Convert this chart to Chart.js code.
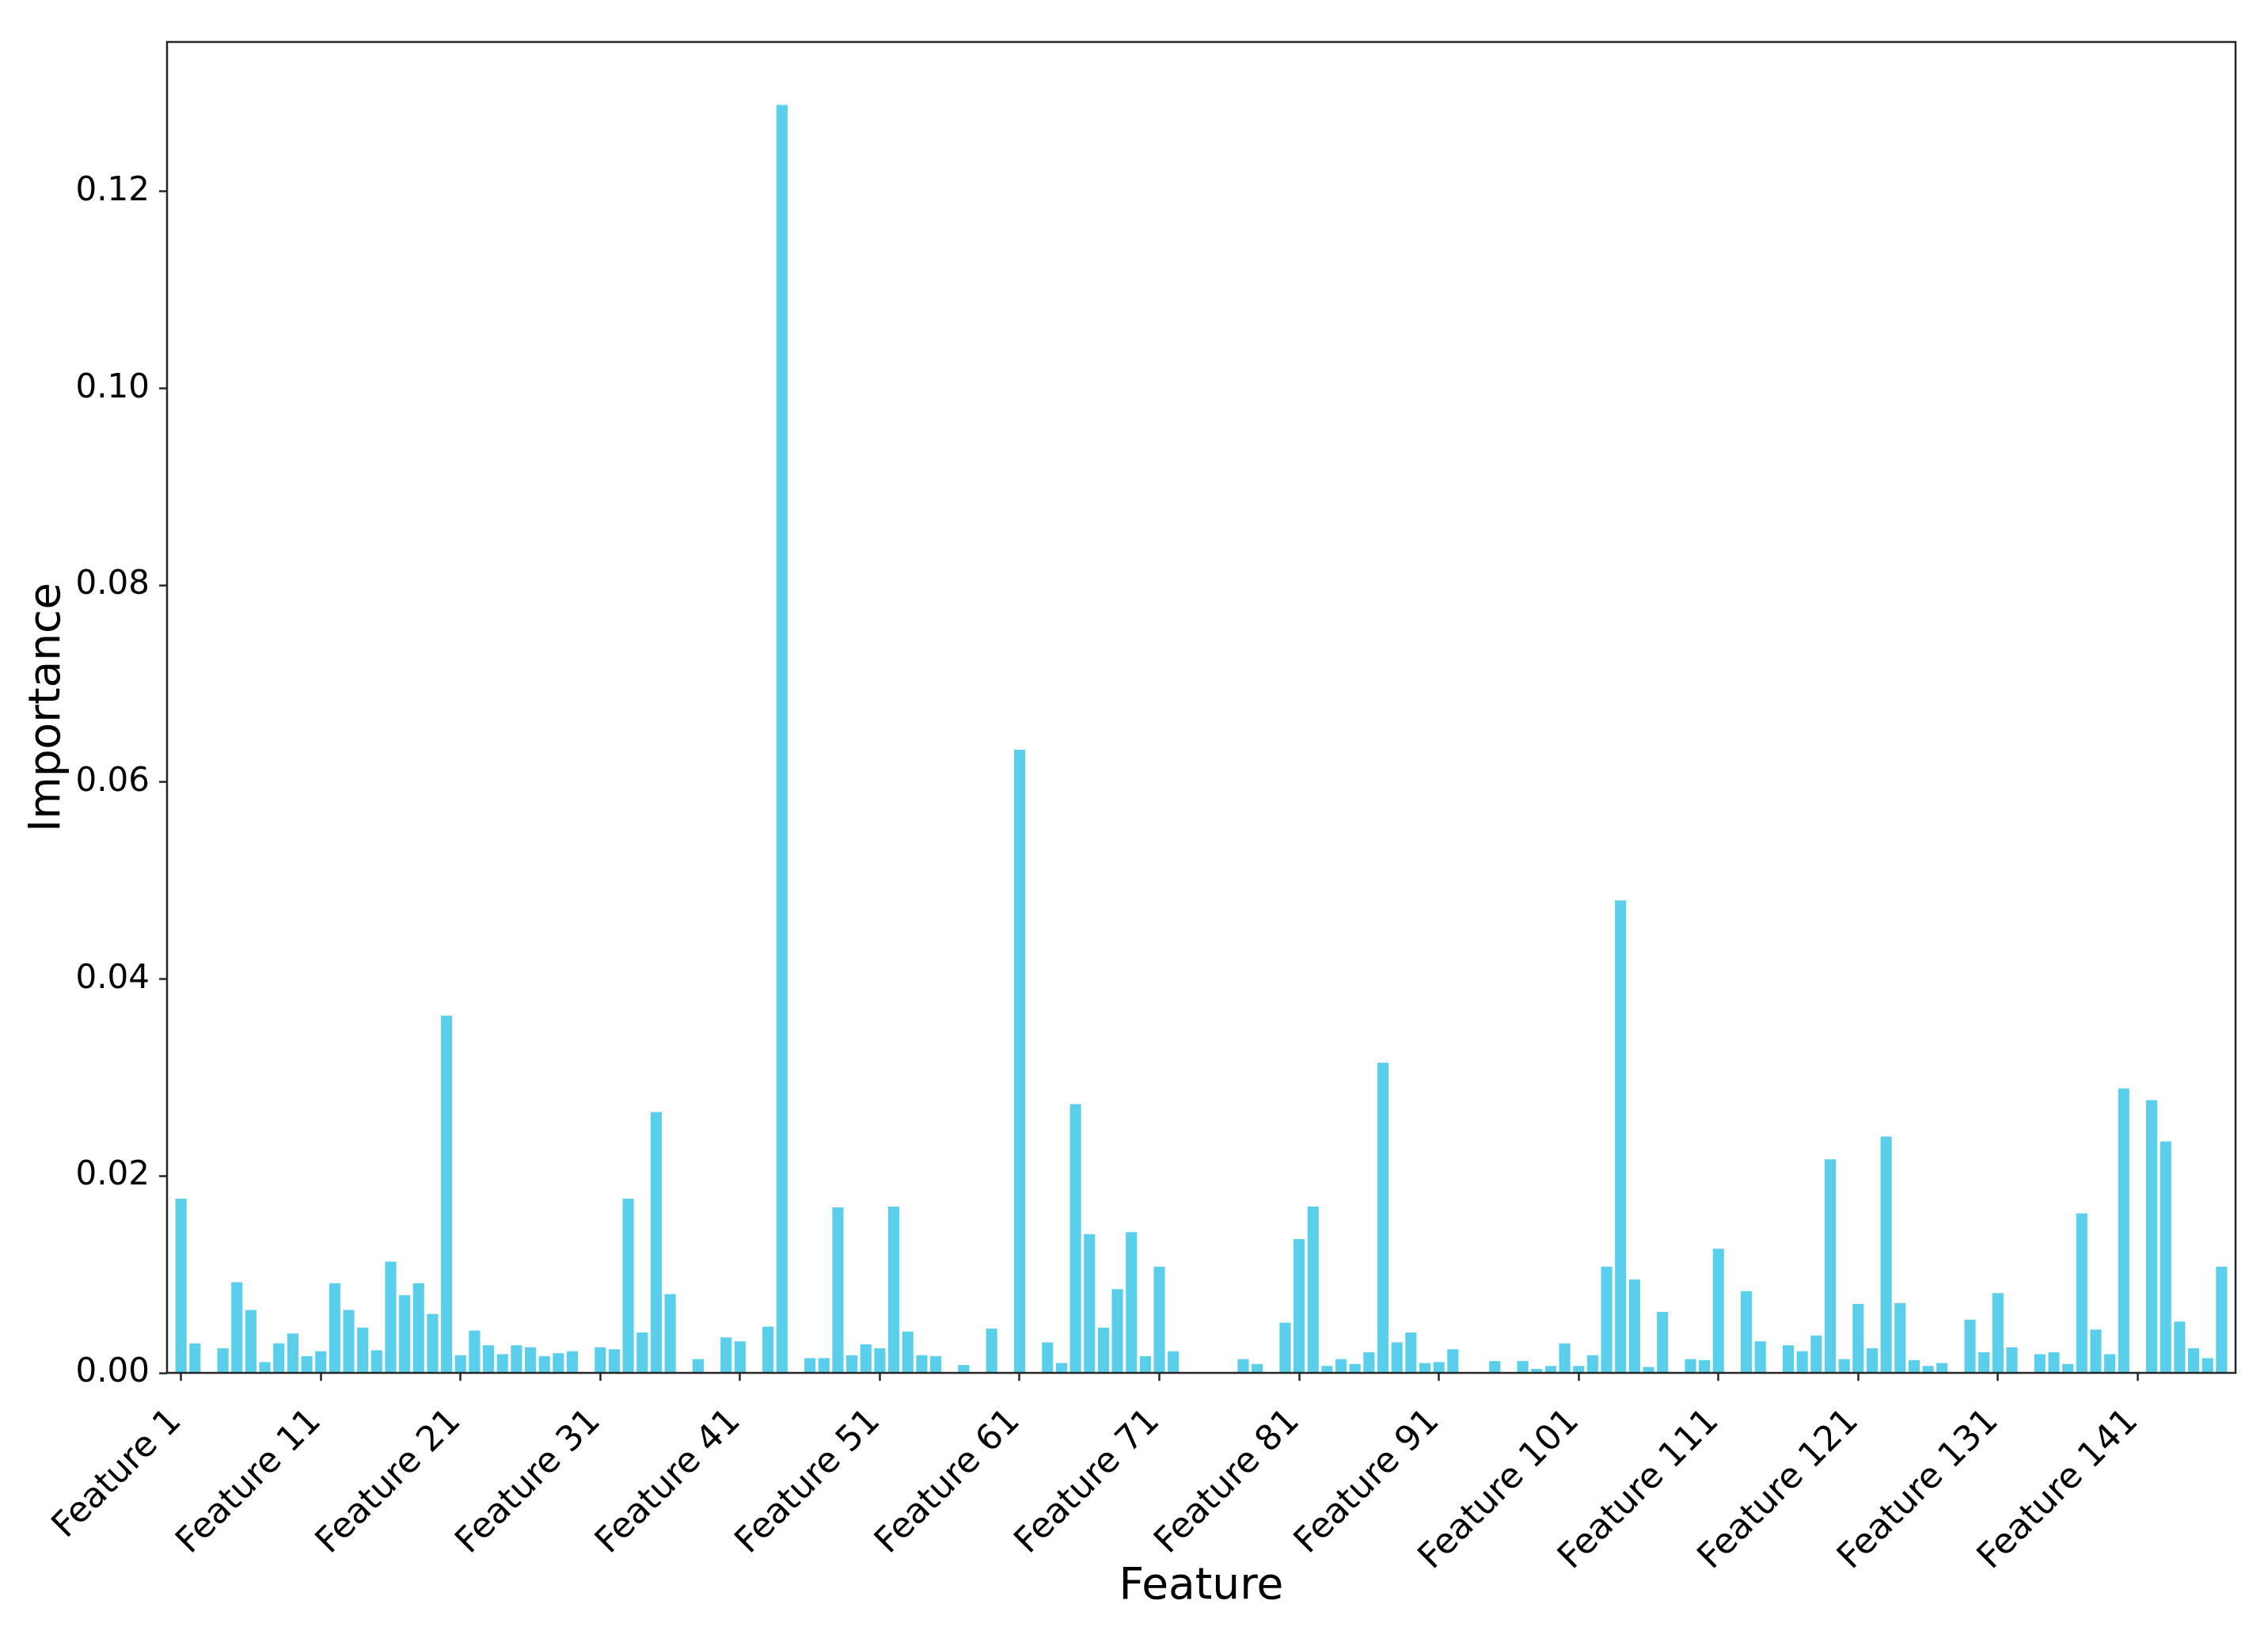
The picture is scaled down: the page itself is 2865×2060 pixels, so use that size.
<!DOCTYPE html>
<html>
<head>
<meta charset="utf-8">
<script src="https://cdn.jsdelivr.net/npm/chart.js@4/dist/chart.umd.min.js"></script>
<style>
  html, body { margin: 0; padding: 0; background: #fff; }
  #chart { display: block; }
</style>
</head>
<body>
<canvas id="chart" width="2865" height="2060"></canvas>
<script>
// ─── DATA ────────────────────────────────────────────────────────────────────

const importance = [
  0.0177, 0.0030, 0.0000, 0.0025, 0.0092, 0.0064, 0.0011, 0.0030, 0.0040, 0.0017,
  0.0022, 0.0091, 0.0064, 0.0046, 0.0023, 0.0113, 0.0079, 0.0091, 0.0060, 0.0363,
  0.0018, 0.0043, 0.0028, 0.0019, 0.0028, 0.0026, 0.0017, 0.0020, 0.0022, 0.0000,
  0.0026, 0.0024, 0.0177, 0.0041, 0.0265, 0.0080, 0.0000, 0.0014, 0.0000, 0.0036,
  0.0032, 0.0000, 0.0047, 0.1288, 0.0000, 0.0015, 0.0015, 0.0168, 0.0018, 0.0029,
  0.0025, 0.0169, 0.0042, 0.0018, 0.0017, 0.0000, 0.0008, 0.0000, 0.0045, 0.0000,
  0.0633, 0.0000, 0.0031, 0.0010, 0.0273, 0.0141, 0.0046, 0.0085, 0.0143, 0.0017,
  0.0108, 0.0022, 0.0000, 0.0000, 0.0000, 0.0000, 0.0014, 0.0009, 0.0000, 0.0051,
  0.0136, 0.0169, 0.0007, 0.0014, 0.0009, 0.0021, 0.0315, 0.0031, 0.0041, 0.0010,
  0.0011, 0.0024, 0.0000, 0.0000, 0.0012, 0.0000, 0.0012, 0.0004, 0.0007, 0.0030,
  0.0007, 0.0018, 0.0108, 0.0480, 0.0095, 0.0006, 0.0062, 0.0000, 0.0014, 0.0013,
  0.0126, 0.0000, 0.0083, 0.0032, 0.0000, 0.0028, 0.0022, 0.0038, 0.0217, 0.0014,
  0.0070, 0.0025, 0.0240, 0.0071, 0.0013, 0.0007, 0.0010, 0.0000, 0.0054, 0.0021,
  0.0081, 0.0026, 0.0000, 0.0019, 0.0021, 0.0009, 0.0162, 0.0044, 0.0019, 0.0289,
  0.0001, 0.0277, 0.0235, 0.0052, 0.0025, 0.0015, 0.0108
];

const features = importance.map((_, i) => `Feature ${i + 1}`);

// every 10th feature gets a labelled tick
const xTickIdx = [0, 10, 20, 30, 40, 50, 60, 70, 80, 90, 100, 110, 120, 130, 140];
const yTicks   = [0, 0.02, 0.04, 0.06, 0.08, 0.10, 0.12];

// ─── CHART ───────────────────────────────────────────────────────────────────

const FONT   = 'DejaVu Sans';
const BAR    = 'rgb(89, 207, 236)';
const SPINE  = '#262626';

// box round the plot, like matplotlib's four spines
const frame = {
  id: 'frame',
  afterDatasetsDraw(chart) {
    const { ctx, chartArea: a } = chart;
    ctx.save();
    ctx.strokeStyle = SPINE;
    ctx.lineWidth = 2.5;
    ctx.strokeRect(a.left, a.top, a.right - a.left, a.bottom - a.top);
    ctx.restore();
  }
};

new Chart(document.getElementById('chart'), {
  type: 'bar',
  data: {
    datasets: [{
      data: importance.map((v, i) => ({ x: i, y: v })),
      backgroundColor: BAR,
      borderWidth: 0,
      barPercentage: 0.8,
      categoryPercentage: 1.0
    }]
  },
  options: {
    responsive: false,
    devicePixelRatio: 1,
    animation: false,
    layout: { padding: { left: 0, top: 53, right: 41, bottom: 0 } },
    plugins: {
      legend: { display: false },
      tooltip: { enabled: false }
    },
    scales: {
      x: {
        type: 'linear',
        min: -1,
        max: 147,
        offset: false,
        afterFit: s => { s.height = 326; },
        afterBuildTicks: s => { s.ticks = xTickIdx.map(v => ({ value: v })); },
        grid: {
          offset: false,
          drawOnChartArea: false,
          drawTicks: true,
          tickLength: 10,
          tickWidth: 2.5,
          tickColor: SPINE
        },
        border: { display: false },
        ticks: {
          autoSkip: false,
          minRotation: 45,
          maxRotation: 45,
          padding: 26,
          labelOffset: -6,
          color: '#000',
          font: { family: FONT, size: 44 },
          callback: v => features[v]
        },
        title: {
          display: true,
          text: 'Feature',
          color: '#000',
          font: { family: FONT, size: 55 },
          padding: { top: 0, bottom: 22 }
        }
      },
      y: {
        min: 0,
        max: 0.1352,
        afterFit: s => { s.width = 211; },
        afterBuildTicks: s => { s.ticks = yTicks.map(v => ({ value: v })); },
        grid: {
          drawOnChartArea: false,
          drawTicks: true,
          tickLength: 10,
          tickWidth: 2.5,
          tickColor: SPINE
        },
        border: { display: false },
        ticks: {
          padding: 12,
          color: '#000',
          font: { family: FONT, size: 42 },
          callback: v => v.toFixed(2)
        },
        title: {
          display: true,
          text: 'Importance',
          color: '#000',
          font: { family: FONT, size: 55 },
          padding: { top: 28, bottom: 0 }
        }
      }
    }
  },
  plugins: [frame]
});
</script>
</body>
</html>
